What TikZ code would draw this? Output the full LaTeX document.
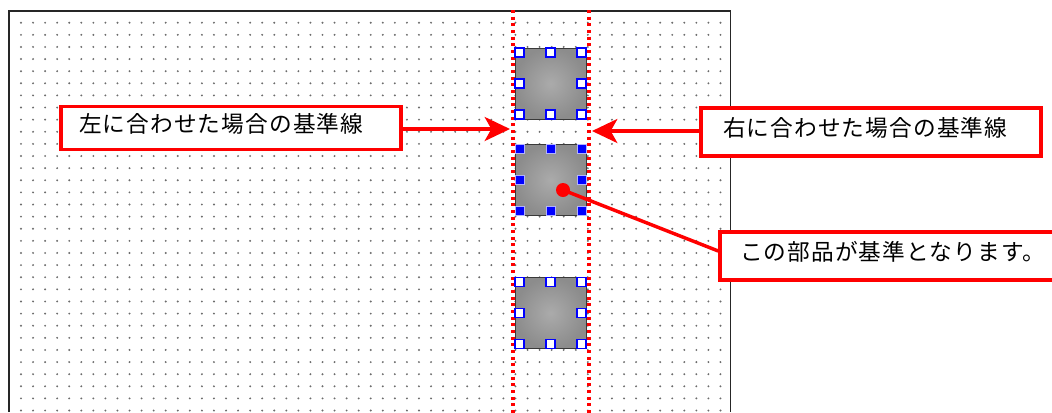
\documentclass[tikz,border=0pt]{standalone}
\usepackage{fontspec}
\newfontfamily\jpfont[LetterSpace=5]{Noto Sans CJK JP}
\usetikzlibrary{arrows.meta,positioning}

\tikzset{
  callout/.style={draw=red, line width=2.6pt, fill=white, align=left,
    font=\jpfont\fontsize{17pt}{20pt}\selectfont,
    text height=13pt, text depth=7pt, inner ysep=0pt},
  part/.style={rectangle, minimum size=53.25pt, inner sep=0pt,
    inner color=gray!66, outer color=gray!90, draw=gray!45!black, line width=0.7pt},
  handle/.style={rectangle, draw=blue, line width=1.1pt, fill=white,
    minimum size=6.6pt, inner sep=0pt},
  handlesel/.style={handle, fill=blue, draw=white!70!blue, line width=0.6pt},
  guide/.style={red, line width=2.3pt, dash pattern=on 2.3pt off 2.7pt},
  pointer/.style={red, line width=2.6pt, -{Stealth[length=19pt, width=18pt, inset=5pt]}},
}

\begin{document}
\begin{tikzpicture}[x=0.75pt, y=-0.75pt]
  \useasboundingbox[fill=white] (0,0) rectangle (1052,412);
  % Dot grid of the form
  \foreach \i in {0,...,58}
    \foreach \j in {0,...,32}
      \fill[gray!85!black] (21+12.06*\i, 22.7+12.12*\j) circle (0.8pt);
  % Form frame
  \draw[gray!30!black, line width=1.4pt] (9,412) -- (9,11) -- (730.5,11) -- (730.5,412);
  % Parts stacked in a column
  \node[part] (p1) at (550.5,83.5) {};
  \node[part] (p2) at (550.5,180) {};
  \node[part] (p3) at (550.5,313) {};
  % Alignment guides
  \coordinate (gl) at (513,10);
  \coordinate (gl2) at (513,414);
  \coordinate (gr) at (589,10);
  \coordinate (gr2) at (589,414);
  \draw[guide] (gl) -- (gl2);
  \draw[guide] (gr) -- (gr2);
  % Selection handles
  \foreach \p/\st in {p1/handle, p2/handlesel, p3/handle}
    \foreach \dx/\dy in {-31/-31, 0/-31, 31/-31, -31/0, 31/0, -31/31, 0/31, 31/31}
      \node[\st] at ([shift={(\dx,\dy)}]\p) {};
  % Callouts
  \node[callout, text width=228pt, inner xsep=13.5pt, minimum height=32.25pt]
    (lbox) at (231,128) {左に合わせた場合の基準線};
  \node[callout, text width=222pt, inner xsep=16.5pt, minimum height=36pt]
    (rbox) at (871,132) {右に合わせた場合の基準線};
  \node[callout, text width=223.5pt, inner xsep=15pt, minimum height=36pt]
    (note) at (889,256) {この部品が基準となります。};
  \coordinate (ltip) at (510,129);
  \coordinate (rtip) at (592,131);
  \draw[pointer] (lbox.east |- ltip) -- (ltip);
  \draw[pointer] (rbox.west |- rtip) -- (rtip);
  % Reference mark on the middle part
  \node[circle, fill=red, minimum size=10.5pt, inner sep=0pt] (refdot) at (563,190) {};
  \draw[red, line width=2.6pt] (refdot.center) -- ([yshift=3.75pt]note.west);
\end{tikzpicture}
\end{document}
